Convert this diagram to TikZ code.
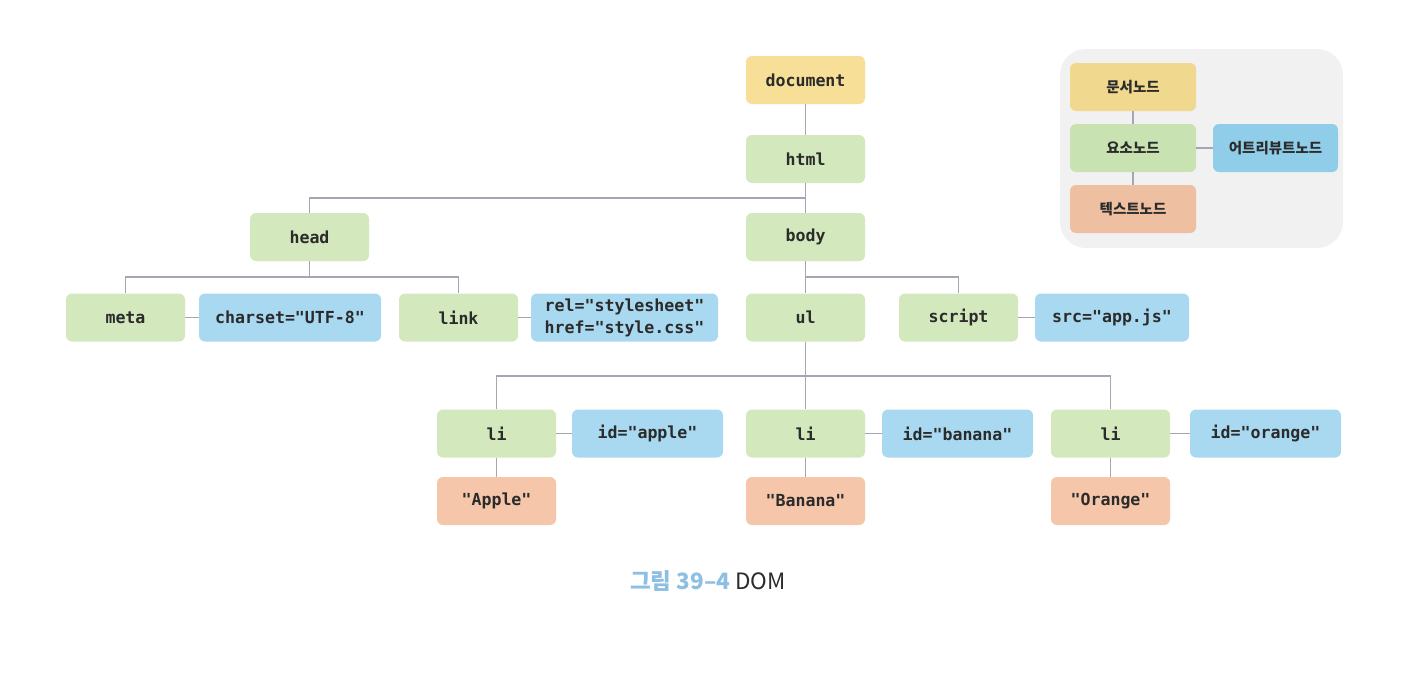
\documentclass[tikz,border=0pt]{standalone}
\usepackage{fontspec}
\newfontfamily\codefont{DejaVu Sans Mono}
\newfontfamily\krfont{Noto Sans CJK KR}
\definecolor{cYel}{HTML}{F8DF97}
\definecolor{cGrn}{HTML}{D3E8BD}
\definecolor{cBlu}{HTML}{A8D9F0}
\definecolor{cOra}{HTML}{F5C6A9}
\definecolor{lYel}{HTML}{F0D98E}
\definecolor{lGrn}{HTML}{C9E2B1}
\definecolor{lBlu}{HTML}{8FCDE8}
\definecolor{lOra}{HTML}{EEBFA0}
\definecolor{cLine}{HTML}{A4A7B3}
\definecolor{cTxt}{HTML}{2B2B2B}
\definecolor{cCap}{HTML}{8DBFE2}
\definecolor{cLeg}{HTML}{F1F1F1}
\begin{document}
\begin{tikzpicture}[x=1pt,y=-1pt,
  box/.style={rounded corners=6pt,inner sep=0pt,minimum height=48pt,text=cTxt,
     font=\codefont\bfseries\fontsize{16.6}{22}\selectfont},
  elem/.style={box,fill=cGrn,minimum width=119pt},
  docn/.style={box,fill=cYel,minimum width=119pt},
  attr/.style={box,fill=cBlu},
  txtn/.style={box,fill=cOra,minimum width=119pt},
  leg/.style={rounded corners=6pt,inner sep=0pt,minimum height=48pt,minimum width=126pt,
     text=cTxt,font=\krfont\bfseries\fontsize{14.5}{17}\selectfont},
  conn/.style={draw=cLine,line width=1.5pt}]
\useasboundingbox (0,0) rectangle (1426,672);
\fill[white] (0,0) rectangle (1426,672);
% legend
\fill[cLeg,rounded corners=26pt] (1060,49) rectangle (1343,248);
\node[leg,fill=lYel] (ldoc) at (1133,87) {문서노드};
\node[leg,fill=lGrn] (lelem) at (1133,148) {요소노드};
\node[leg,fill=lBlu,minimum width=125pt] (lattr) at (1275.5,148) {어트리뷰트노드};
\node[leg,fill=lOra] (ltext) at (1133,209) {텍스트노드};
\draw[conn] (ldoc.south) -- (lelem.north);
\draw[conn] (lelem.east) -- (lattr.west);
\draw[conn] (lelem.south) -- (ltext.north);
% tree
\node[docn] (document) at (805.5,80) {document};
\node[elem] (html) at (805.5,159) {html};
\node[elem] (head) at (309.5,237) {head};
\node[elem] (body) at (805.5,237) {body};
\node[elem] (meta) at (125.5,317.5) {meta};
\node[attr,minimum width=182pt] (charset) at (290,317.5) {charset="UTF-8"};
\node[elem] (link) at (458.5,317.5) {link};
\node[attr,minimum width=187pt,align=left] (rel) at (624.5,317.5) {rel="stylesheet"\\href="style.css"};
\node[elem] (ul) at (805.5,317.5) {ul};
\node[elem] (script) at (958.5,317.5) {script};
\node[attr,minimum width=154pt] (src) at (1112,317.5) {src="app.js"};
\node[elem] (li1) at (496.5,433.5) {li};
\node[attr,minimum width=151pt] (ida) at (647.5,433.5) {id="apple"};
\node[elem] (li2) at (805.5,433.5) {li};
\node[attr,minimum width=151pt] (idb) at (957.5,433.5) {id="banana"};
\node[elem] (li3) at (1110.5,433.5) {li};
\node[attr,minimum width=151pt] (ido) at (1265.5,433.5) {id="orange"};
\node[txtn] (apple) at (496.5,501) {"Apple"};
\node[txtn] (banana) at (805.5,501) {"Banana"};
\node[txtn] (orange) at (1110.5,501) {"Orange"};
\coordinate (j1) at (805.5,198);
\coordinate (j2) at (309.5,277);
\coordinate (j3) at (805.5,277);
\coordinate (j4) at (805.5,376);
\draw[conn] (document.south) -- (html.north);
\draw[conn] (html.south) -- (body.north);
\draw[conn] (head.north) |- (j1);
\draw[conn] (head.south) -- (j2);
\draw[conn] (meta.north) |- (j2) -| (link.north);
\draw[conn] (body.south) -- (ul.north);
\draw[conn] (j3) -| (script.north);
\draw[conn] (ul.south) -- (li2.north);
\draw[conn] (li1.north) |- (j4) -| (li3.north);
\draw[conn] (meta.east) -- (charset.west);
\draw[conn] (link.east) -- (rel.west);
\draw[conn] (script.east) -- (src.west);
\draw[conn] (li1.east) -- (ida.west);
\draw[conn] (li2.east) -- (idb.west);
\draw[conn] (li3.east) -- (ido.west);
\draw[conn] (li1.south) -- (apple.north);
\draw[conn] (li2.south) -- (banana.north);
\draw[conn] (li3.south) -- (orange.north);
% caption
\node[inner sep=0pt,font=\krfont\fontsize{22.5}{26}\selectfont] (cap) at (708,581)
  {\textcolor{cCap}{\bfseries 그림 39–4} \textcolor{cTxt}{DOM}};
\end{tikzpicture}
\end{document}
